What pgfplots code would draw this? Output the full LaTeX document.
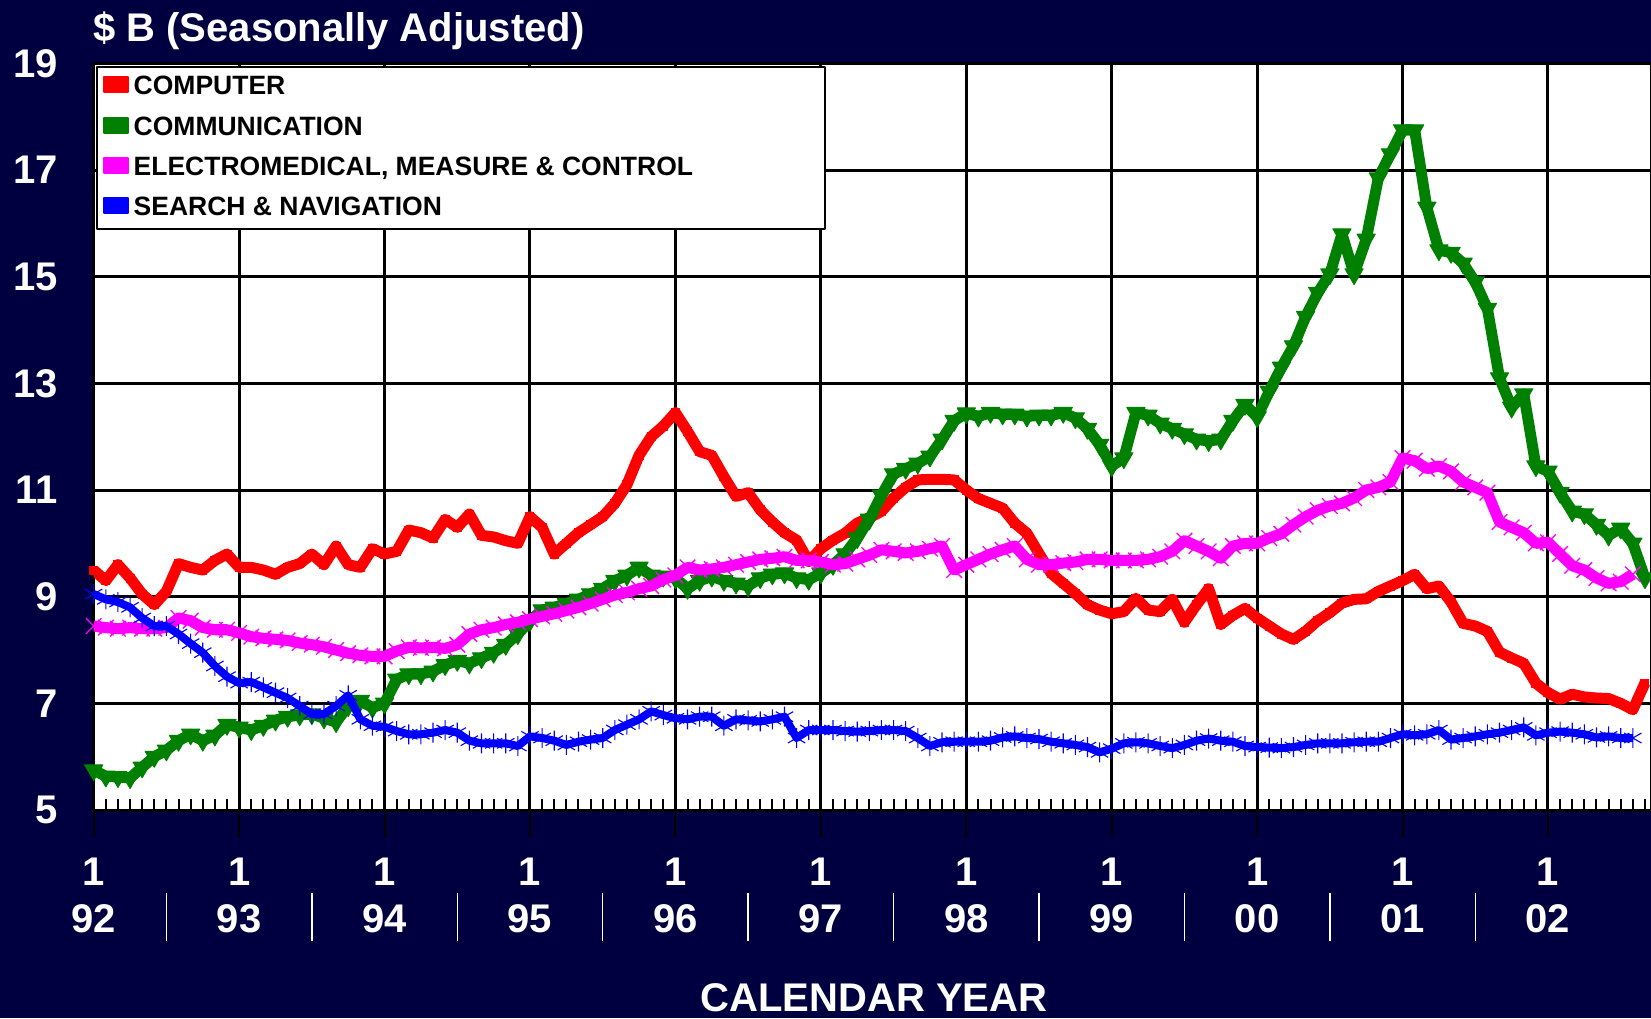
\documentclass[border=0pt]{standalone}
\usepackage{fontspec}
\setmainfont{Liberation Sans}
\usepackage{pgfplots}
\usepackage{pgfplotstable}
\pgfplotsset{compat=1.18}

\definecolor{navybg}{RGB}{0,0,64}
\definecolor{xlgreen}{RGB}{0,128,0}
\definecolor{xlred}{RGB}{255,0,0}
\definecolor{xlmag}{RGB}{255,0,255}
\definecolor{xlblue}{RGB}{0,0,255}
\newcommand\bigf{\fontsize{40}{47}\selectfont\bfseries}
\newcommand\legf{\fontsize{26.5}{30}\selectfont\bfseries}

% month index 0 = Jan 1992
\pgfplotstableread{
m comp comm elec srch
0 9.50 5.75 8.45 9.05
1 9.30 5.63 8.42 8.95
2 9.60 5.62 8.40 8.90
3 9.35 5.60 8.42 8.80
4 9.05 5.80 8.40 8.60
5 8.85 6.00 8.40 8.45
6 9.10 6.12 8.42 8.45
7 9.62 6.30 8.60 8.30
8 9.55 6.42 8.55 8.12
9 9.50 6.30 8.42 7.95
10 9.68 6.40 8.38 7.70
11 9.80 6.60 8.38 7.50
12 9.55 6.55 8.32 7.38
13 9.55 6.50 8.25 7.40
14 9.50 6.58 8.22 7.30
15 9.42 6.68 8.20 7.20
16 9.55 6.75 8.18 7.10
17 9.62 6.78 8.13 6.95
18 9.80 6.80 8.10 6.80
19 9.60 6.72 8.06 6.80
20 9.95 6.65 8.00 6.95
21 9.60 6.95 7.94 7.15
22 9.55 7.05 7.90 6.70
23 9.90 6.92 7.88 6.58
24 9.80 7.00 7.88 6.56
25 9.85 7.45 7.98 6.48
26 10.25 7.55 8.05 6.42
27 10.20 7.55 8.04 6.42
28 10.10 7.60 8.05 6.45
29 10.45 7.72 8.03 6.50
30 10.30 7.80 8.10 6.45
31 10.55 7.75 8.30 6.30
32 10.15 7.85 8.38 6.25
33 10.12 7.95 8.42 6.25
34 10.05 8.10 8.48 6.25
35 10.00 8.30 8.52 6.20
36 10.50 8.55 8.58 6.38
37 10.30 8.75 8.63 6.35
38 9.80 8.80 8.68 6.30
39 10.00 8.87 8.74 6.22
40 10.20 8.95 8.80 6.28
41 10.35 9.05 8.87 6.32
42 10.50 9.15 8.95 6.35
43 10.75 9.30 9.03 6.50
44 11.10 9.40 9.08 6.60
45 11.65 9.55 9.15 6.70
46 12.00 9.40 9.20 6.85
47 12.20 9.38 9.32 6.78
48 12.45 9.35 9.40 6.72
49 12.10 9.15 9.55 6.70
50 11.72 9.30 9.50 6.75
51 11.65 9.38 9.52 6.75
52 11.25 9.30 9.55 6.58
53 10.88 9.25 9.60 6.70
54 10.95 9.20 9.65 6.68
55 10.63 9.35 9.70 6.66
56 10.40 9.42 9.72 6.70
57 10.20 9.44 9.75 6.75
58 10.06 9.35 9.68 6.35
59 9.66 9.32 9.68 6.50
60 9.90 9.44 9.65 6.50
61 10.06 9.60 9.60 6.50
62 10.19 9.80 9.62 6.48
63 10.38 10.10 9.70 6.47
64 10.48 10.45 9.78 6.48
65 10.60 10.90 9.88 6.50
66 10.85 11.30 9.85 6.50
67 11.05 11.40 9.82 6.48
68 11.19 11.50 9.85 6.35
69 11.20 11.63 9.90 6.20
70 11.20 11.95 9.95 6.27
71 11.19 12.30 9.50 6.28
72 11.00 12.44 9.60 6.28
73 10.84 12.38 9.70 6.28
74 10.75 12.45 9.80 6.30
75 10.66 12.42 9.88 6.36
76 10.38 12.42 9.95 6.38
77 10.19 12.38 9.70 6.35
78 9.81 12.40 9.60 6.33
79 9.44 12.40 9.60 6.28
80 9.25 12.45 9.63 6.25
81 9.06 12.35 9.65 6.22
82 8.85 12.15 9.70 6.18
83 8.75 11.85 9.70 6.08
84 8.68 11.45 9.68 6.15
85 8.72 11.60 9.68 6.25
86 8.97 12.45 9.68 6.27
87 8.75 12.40 9.70 6.25
88 8.72 12.25 9.75 6.20
89 8.95 12.15 9.85 6.16
90 8.52 12.05 10.05 6.22
91 8.85 11.95 9.95 6.30
92 9.15 11.92 9.85 6.34
93 8.48 11.95 9.72 6.30
94 8.65 12.30 9.95 6.28
95 8.78 12.60 10.00 6.20
96 8.60 12.37 10.00 6.18
97 8.45 12.85 10.10 6.17
98 8.30 13.30 10.18 6.16
99 8.20 13.70 10.35 6.18
100 8.35 14.25 10.50 6.22
101 8.55 14.70 10.62 6.25
102 8.70 15.05 10.70 6.25
103 8.88 15.80 10.75 6.25
104 8.95 15.05 10.85 6.27
105 8.96 15.70 11.00 6.28
106 9.10 16.85 11.05 6.28
107 9.20 17.30 11.15 6.35
108 9.30 17.75 11.60 6.42
109 9.42 17.75 11.55 6.40
110 9.15 16.30 11.40 6.42
111 9.20 15.50 11.45 6.50
112 8.90 15.45 11.35 6.32
113 8.50 15.25 11.15 6.35
114 8.45 14.90 11.05 6.38
115 8.35 14.40 10.95 6.42
116 7.96 13.10 10.40 6.45
117 7.85 12.55 10.30 6.50
118 7.75 12.80 10.20 6.55
119 7.38 11.45 10.00 6.40
120 7.20 11.35 10.02 6.45
121 7.08 10.95 9.80 6.47
122 7.17 10.60 9.58 6.45
123 7.12 10.55 9.50 6.42
124 7.10 10.35 9.35 6.36
125 7.09 10.15 9.25 6.38
126 7.00 10.28 9.28 6.35
127 6.88 10.00 9.42 6.35
128 7.38 9.35 nan nan
}\shipments

\begin{document}
\begin{tikzpicture}
\fill[navybg] (0pt,0pt) rectangle (1651pt,1018pt);
\useasboundingbox (0pt,0pt) rectangle (1651pt,1018pt);
\node[anchor=base west, text=white, font=\bigf, inner sep=0pt] at (93pt,976pt) {\$ B (Seasonally Adjusted)};
\node[anchor=base, text=white, font=\bigf, inner sep=0pt] at (874pt,7pt) {CALENDAR YEAR};
\begin{axis}[
    at={(93.7pt,208pt)}, anchor=south west,
    scale only axis, width=1557.3pt, height=746.6pt,
    xmin=0, xmax=128.5, ymin=5, ymax=19,
    axis background/.style={fill=white},
    axis line style={line width=3pt, black},
    grid=major,
    major grid style={line width=3pt, black},
    ytick={5,7,...,19},
    xtick={0,12,...,120},
    xticklabels={1\\92,1\\93,1\\94,1\\95,1\\96,1\\97,1\\98,1\\99,1\\00,1\\01,1\\02},
    minor xtick={0,...,128},
    tick align=inside,
    major tick length=0pt,
    minor tick length=11pt,
    minor tick style={line width=2pt, black},
    xtick pos=bottom, ytick pos=left,
    /pgf/number format/assume math mode=true,
    yticklabel style={text=white, font=\bigf, inner sep=0pt, anchor=east, xshift=-36pt},
    xticklabel style={text=white, font=\bigf, inner sep=0pt, align=center, anchor=north, yshift=-47.5pt},
    clip mode=individual,
    legend cell align=left,
    legend image code/.code={\fill[#1] (0pt,-4.5pt) rectangle (24pt,10.5pt);},
    legend style={at={(rel axis cs:0,1)}, anchor=north west, xshift=2pt, yshift=-3pt,
        draw=black, line width=2pt, fill=white, text=black, font=\legf,
        inner xsep=6pt, inner ysep=8.5pt, row sep=16.2pt, column sep=5pt,
        nodes={inner sep=0pt, text height=19pt, text depth=5pt}},
    line join=round,
]
\addplot[xlred, line width=11pt, mark=square*, mark size=4pt, mark options={line width=1pt}, forget plot]
    table[x=m, y=comp] {\shipments};
\addplot[xlgreen, line width=11pt, mark=triangle*, mark size=10.5pt, mark options={rotate=180, line width=1pt}, forget plot]
    table[x=m, y=comm] {\shipments};
\addplot[xlmag, line width=11pt, mark=x, mark size=11pt, mark options={line width=1.3pt}, forget plot]
    table[x=m, y=elec] {\shipments};
\addplot[xlblue, line width=8pt, mark=asterisk, mark size=10pt, mark options={line width=1.1pt}, forget plot]
    table[x=m, y=srch] {\shipments};
\addlegendimage{xlred}
\addlegendentry{\makebox[685pt][l]{COMPUTER}}
\addlegendimage{xlgreen}
\addlegendentry{\makebox[685pt][l]{COMMUNICATION}}
\addlegendimage{xlmag}
\addlegendentry{\makebox[685pt][l]{ELECTROMEDICAL, MEASURE \& CONTROL}}
\addlegendimage{xlblue}
\addlegendentry{\makebox[685pt][l]{SEARCH \& NAVIGATION}}
% year ticks below the axis and separators between year labels
\pgfplotsinvokeforeach{0,12,...,120}{
    \draw[black, line width=2pt] (axis cs:#1,5) -- ++(0pt,-27pt);
}
\pgfplotsinvokeforeach{6,18,...,114}{
    \draw[white, line width=1.5pt] (axis cs:#1,5) ++(0pt,-83pt) -- ++(0pt,-48pt);
}
\end{axis}
\end{tikzpicture}
\end{document}
